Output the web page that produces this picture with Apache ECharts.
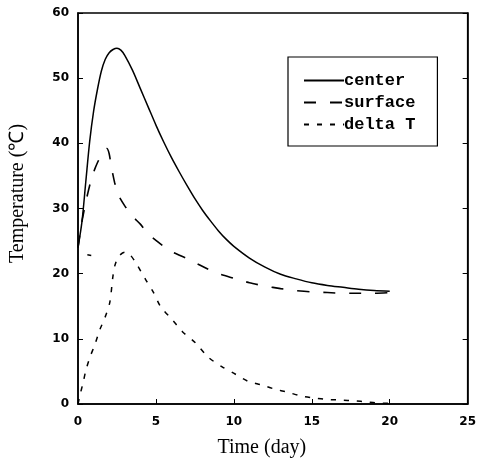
<!DOCTYPE html>
<html>
<head>
<meta charset="utf-8">
<script src="https://cdn.jsdelivr.net/npm/echarts@6/dist/echarts.min.js"></script>
<style>
  html, body { margin: 0; padding: 0; background: #fff; }
  #chart { width: 479px; height: 463px; }
</style>
</head>
<body>
<div id="chart"></div>
<script>
// temperature curves, [day, value]
const centerData = [[0, 24], [0.25, 27.9], [0.5, 34.1], [0.75, 40.3], [1, 44.9], [1.25, 48.3], [1.5, 51.1],
  [1.75, 52.9], [2, 53.9], [2.25, 54.4], [2.5, 54.6], [2.75, 54.3], [3, 53.5], [3.5, 51.2], [4, 48.4],
  [4.5, 45.6], [5, 42.8], [5.5, 40.2], [6, 37.8], [6.5, 35.6], [7, 33.5], [7.5, 31.5], [8, 29.7],
  [8.5, 28.1], [9, 26.6], [9.5, 25.3], [10, 24.2], [11, 22.4], [12, 21.0], [13, 19.9], [14, 19.2],
  [15, 18.6], [16, 18.2], [17, 17.9], [18, 17.6], [19, 17.4], [20, 17.3]]

const surfaceData = [[0, 24], [0.2, 27.3], [0.5, 31], [0.8, 34], [1.1, 36.2], [1.4, 37.8], [1.65, 38.8],
  [1.85, 39.2], [2.0, 38.4], [2.15, 36.3], [2.35, 34], [2.6, 32], [3, 30.4], [3.5, 28.8], [4, 27.6],
  [4.5, 26.1], [5, 25.1], [5.5, 24.2], [6, 23.4], [7, 22.3], [8, 21.1], [9, 20], [10, 19.3], [11, 18.6],
  [12, 18.1], [13, 17.7], [14, 17.4], [15, 17.2], [16, 17.1], [17, 17], [18, 17], [19, 17], [20, 17.1]]

// the stray dash near 23 is kept as a separate piece ('-' breaks the line)
const deltaData = [[0.6, 22.9], [0.85, 22.8], [0.9, '-'],
  [0, 0], [0.13, 1.4], [0.32, 3.2], [0.51, 5.2], [0.77, 7.2], [1.08, 9.1], [1.4, 11.4], [1.72, 13.2],
  [2.04, 15.6], [2.23, 19.4], [2.36, 21.2], [2.6, 22.6], [3.0, 23.3], [3.3, 23.0], [3.7, 21.7],
  [4.34, 19.1], [4.85, 17.1], [5.29, 15], [6.06, 12.9], [6.7, 11.1], [7.53, 9.4], [8.35, 7.2],
  [9.25, 5.7], [10.08, 4.6], [10.9, 3.5], [11.8, 2.9], [12.6, 2.3], [13.46, 1.8], [14.35, 1.2],
  [15.18, 0.9], [16, 0.7], [16.9, 0.6], [17.7, 0.5], [18.56, 0.3], [19.3, 0.15], [20, 0.1]]

const seriesNames = ['center', 'surface', 'delta T']
const xMin = 0, xMax = 25, xStep = 5
const yMin = 0, yMax = 60, yStep = 10

const labelFont = {
  color: '#000',
  fontFamily: 'DejaVu Sans',
  fontWeight: 'bold',
  fontSize: 12
}

const chart = echarts.init(document.getElementById('chart'))
chart.setOption({
  backgroundColor: '#fff',
  animation: false,
  grid: {
    left: 77,
    right: 10,
    top: 13,
    bottom: 59,
    show: true,
    borderColor: '#000',
    borderWidth: 1.5
  },
  legend: {
    data: seriesNames.map(function (n) {
      return { name: n, itemStyle: { opacity: 0 } }
    }),
    orient: 'vertical',
    left: 288,
    top: 57,
    padding: [15, 22, 13, 15],
    itemWidth: 40,
    itemHeight: 14,
    itemGap: 5,
    borderColor: '#000',
    borderWidth: 1.2,
    textStyle: {
      color: '#000',
      fontFamily: 'Liberation Mono',
      fontWeight: 'bold',
      fontSize: 17,
      padding: [0, 0, 0, -5]
    }
  },
  xAxis: [{
    type: 'value',
    min: xMin,
    max: xMax,
    interval: xStep,
    name: 'Time (day)',
    nameLocation: 'middle',
    nameGap: 34,
    nameTextStyle: {
      color: '#000',
      fontFamily: 'Liberation Serif',
      fontSize: 20,
      padding: [0, 22, 0, 0]
    },
    axisLine: { lineStyle: { color: '#000', width: 1.5 } },
    axisTick: { inside: true, length: 5, lineStyle: { color: '#000' } },
    axisLabel: Object.assign({ margin: 12 }, labelFont),
    splitLine: { show: false }
  }],
  yAxis: [{
    type: 'value',
    min: yMin,
    max: yMax,
    interval: yStep,
    name: 'Temperature (℃)',
    nameLocation: 'middle',
    nameGap: 50,
    nameTextStyle: {
      color: '#000',
      fontFamily: 'Liberation Serif',
      fontSize: 20,
      padding: [0, 0, 0, 30]
    },
    axisLine: { lineStyle: { color: '#000', width: 1.5 } },
    axisTick: { inside: true, length: 5, lineStyle: { color: '#000' } },
    axisLabel: Object.assign({ margin: 9 }, labelFont),
    splitLine: { show: false }
  }, {
    type: 'value',
    position: 'right',
    min: yMin,
    max: yMax,
    interval: yStep,
    axisLine: { show: true, lineStyle: { color: '#000', width: 1.5 } },
    axisTick: { inside: true, length: 5, lineStyle: { color: '#000' } },
    axisLabel: { show: false },
    splitLine: { show: false }
  }],
  series: [{
    name: 'center',
    type: 'line',
    data: centerData,
    symbol: 'none',
    smooth: 0.3,
    lineStyle: { color: '#000', width: 1.5, type: 'solid' },
    itemStyle: { color: '#000' }
  }, {
    name: 'surface',
    type: 'line',
    data: surfaceData,
    symbol: 'none',
    smooth: 0.2,
    lineStyle: { color: '#000', width: 1.6, type: [12, 14] },
    itemStyle: { color: '#000' }
  }, {
    name: 'delta T',
    type: 'line',
    data: deltaData,
    symbol: 'none',
    smooth: 0.3,
    connectNulls: false,
    lineStyle: { color: '#000', width: 1.5, type: [5, 8] },
    itemStyle: { color: '#000' }
  }]
})
</script>
</body>
</html>
